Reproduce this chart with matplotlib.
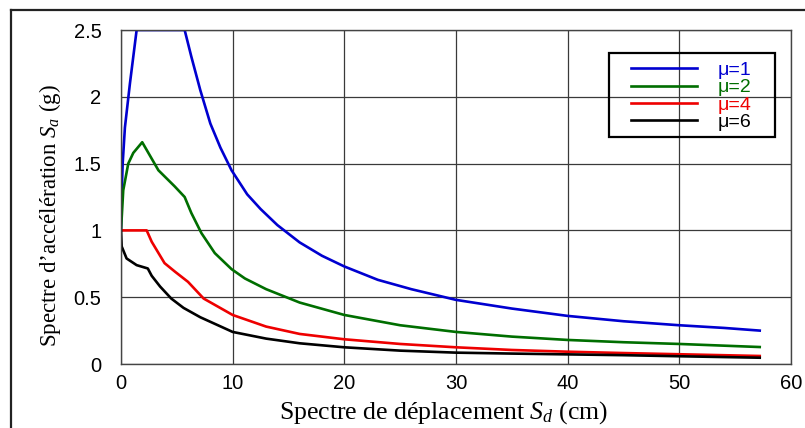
import matplotlib
matplotlib.use('Agg')
import matplotlib.pyplot as plt
from matplotlib.lines import Line2D
from matplotlib.patches import Rectangle

plt.rcParams['mathtext.fontset'] = 'custom'
plt.rcParams['mathtext.rm'] = 'Liberation Serif'
plt.rcParams['mathtext.it'] = 'Liberation Serif:italic'

# Sd (cm) -> Sa (g)
x_mu1 = [0, 0.05, 0.15, 0.35, 0.8, 1.4, 5.7, 6.3, 7.1, 8.0, 8.9, 9.9, 11.3, 12.5,
         14, 16, 18, 20, 23, 26, 30, 35, 40, 45, 50, 54, 57.2]
y_mu1 = [1.0, 1.25, 1.5, 1.77, 2.1, 2.5, 2.5, 2.3, 2.05, 1.8, 1.62, 1.45, 1.27, 1.16,
         1.04, 0.91, 0.81, 0.73, 0.63, 0.56, 0.48, 0.415, 0.36, 0.32, 0.29, 0.27, 0.25]

x_mu2 = [0, 0.2, 0.65, 1.1, 1.9, 3.35, 4.8, 5.7, 6.3, 7.2, 8.4, 9.9, 11.1, 13, 16,
         20, 25, 30, 35, 40, 45, 50, 57.2]
y_mu2 = [1.0, 1.3, 1.5, 1.58, 1.66, 1.45, 1.33, 1.25, 1.13, 0.98, 0.83, 0.71, 0.64, 0.56, 0.46,
         0.367, 0.29, 0.24, 0.205, 0.18, 0.163, 0.15, 0.127]

x_mu4 = [0, 2.3, 2.75, 3.9, 4.85, 6.0, 7.4, 10, 13, 16, 20, 25, 30, 35, 40, 45, 50, 57.2]
y_mu4 = [1.0, 1.0, 0.915, 0.755, 0.69, 0.615, 0.49, 0.367, 0.28, 0.225, 0.185, 0.15,
         0.125, 0.105, 0.092, 0.082, 0.073, 0.06]

x_mu6 = [0, 0.06, 0.5, 1.4, 2.4, 2.75, 3.5, 4.5, 5.6, 7.1, 10, 13, 16, 20, 25, 30,
         35, 40, 45, 50, 57.2]
y_mu6 = [1.0, 0.88, 0.79, 0.74, 0.715, 0.66, 0.58, 0.49, 0.42, 0.35, 0.24, 0.19, 0.155,
         0.125, 0.1, 0.085, 0.078, 0.072, 0.066, 0.058, 0.047]

labels = ['μ=1', 'μ=2', 'μ=4', 'μ=6']
colors = ['#0000d0', '#006e00', '#ee0000', '#000000']

x_ticks = [0, 10, 20, 30, 40, 50, 60]
y_ticks = [0, 0.5, 1, 1.5, 2, 2.5]
y_tick_labels = ['0', '0.5', '1', '1.5', '2', '2.5']

W, H = 805, 428
fig = plt.figure(figsize=(W / 100, H / 100), dpi=100)
ax = fig.add_axes([121 / W, 1 - 364 / H, (791 - 121) / W, (364 - 30) / H])

series = [(x_mu1, y_mu1), (x_mu2, y_mu2), (x_mu4, y_mu4), (x_mu6, y_mu6)]
for (xs, ys), lab, c in zip(series, labels, colors):
    ax.plot(xs, ys, color=c, lw=1.9, label=lab, solid_joinstyle='round')

ax.set_xlim(0, 60)
ax.set_ylim(0, 2.5)
ax.set_xticks(x_ticks)
ax.set_yticks(y_ticks)
ax.set_yticklabels(y_tick_labels)
ax.grid(True, color='#3a3a3a', lw=0.9)
ax.set_axisbelow(True)
for s in ax.spines.values():
    s.set_color('#444444')
    s.set_linewidth(1.0)
ax.tick_params(length=0, labelsize=14.5, pad=7)
ax.tick_params(axis='y', pad=14)
for t in ax.get_xticklabels() + ax.get_yticklabels():
    t.set_fontfamily('Liberation Sans')

ax.set_xlabel('Spectre de déplacement $S_d$ (cm)', family='Liberation Serif',
              fontsize=18.5)
ax.set_ylabel('Spectre d’accélération $S_a$ (g)', family='Liberation Serif',
              fontsize=16.5)
ax.xaxis.set_label_coords(0.482, -0.105)
ax.yaxis.set_label_coords(-0.087, 0.446)

leg = ax.legend(loc='upper left', bbox_to_anchor=(631 / W, 1 - 61.5 / H),
                bbox_transform=fig.transFigure, frameon=False, borderpad=0,
                borderaxespad=0, handlelength=3.4, handletextpad=1.05,
                labelspacing=-0.02, prop={'family': 'Liberation Sans', 'size': 14})
for txt, c in zip(leg.get_texts(), colors):
    txt.set_color(c)
fig.add_artist(Rectangle((609 / W, 1 - 137 / H), (775 - 609) / W, (137 - 53) / H,
                         transform=fig.transFigure, fill=False, ec='black', lw=1.6))

# outer frame of the original figure
fig.add_artist(Line2D([11 / W, 1], [1 - 10 / H, 1 - 10 / H], color='#222222', lw=1.6,
                      transform=fig.transFigure))
fig.add_artist(Line2D([11 / W, 11 / W], [0, 1 - 10 / H], color='#222222', lw=1.6,
                      transform=fig.transFigure))

fig.savefig('out.png', dpi=100, facecolor='white')
